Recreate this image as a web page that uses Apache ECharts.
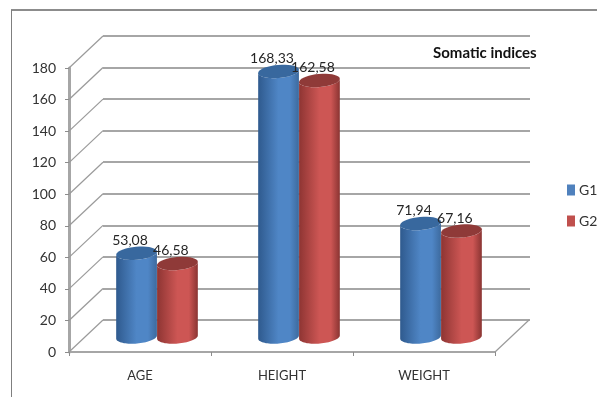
<!DOCTYPE html>
<html>
<head>
<meta charset="utf-8">
<script src="https://cdn.jsdelivr.net/npm/echarts@6/dist/echarts.min.js"></script>
<style>html,body{margin:0;padding:0;background:#fff}#c{width:597px;height:397px}</style>
</head>
<body>
<div id="c"></div>
<script>
const categories = ['AGE', 'HEIGHT', 'WEIGHT'];
const g1Values = [53.08, 168.33, 71.94];
const g2Values = [46.58, 162.58, 67.16];
const yTicks = [0, 20, 40, 60, 80, 100, 120, 140, 160, 180];
const fontName = 'Lato, "Noto Sans", sans-serif';

// Oblique depth of the pseudo-3D box, from the front plane to the back wall.
const depthX = 34, depthY = -32;
const tilt = -5 * Math.PI / 180;
const capRatio = 0.32;

function ellipsePoint(cx, cy, rx, ry, t) {
  const x = rx * Math.cos(t), y = ry * Math.sin(t);
  return [cx + x * Math.cos(tilt) - y * Math.sin(tilt),
          cy + x * Math.sin(tilt) + y * Math.cos(tilt)];
}
function arc(cx, cy, rx, ry, from, to) {
  const pts = [];
  for (let i = 0; i <= 36; i++) pts.push(ellipsePoint(cx, cy, rx, ry, from + (to - from) * i / 36));
  return pts;
}
function cylinderGradient(edgeL, mid, edgeR) {
  return {
    type: 'linear', x: 0, y: 0, x2: 1, y2: 0,
    colorStops: [{offset: 0, color: edgeL}, {offset: 0.5, color: mid}, {offset: 0.78, color: mid}, {offset: 1, color: edgeR}]
  };
}

// Draws one cylinder per value, placed beside the category centre on the mid-depth plane.
function cylinderSeries(name, values, side, color, body, cap, labelDy) {
  return {
    type: 'custom', name, xAxisIndex: 2, yAxisIndex: 2, silent: true,
    itemStyle: {color},
    encode: {x: 0, y: 1},
    data: values.map((v, i) => [i, v]),
    renderItem(params, api) {
      const value = api.value(1);
      const band = api.size([1, 0])[0];
      const base = api.coord([api.value(0), 0]);
      const top = api.coord([api.value(0), value]);
      const rx = band * 0.144, ry = rx * capRatio;
      const cx = base[0] + side * rx;
      return {
        type: 'group',
        children: [
          {type: 'polygon',
           shape: {points: arc(cx, base[1], rx, ry, 0, Math.PI).concat(arc(cx, top[1], rx, ry, Math.PI, 0))},
           style: {fill: body}},
          {type: 'polygon',
           shape: {points: arc(cx, top[1], rx, ry, 0, 2 * Math.PI)},
           style: {fill: cap}},
          {type: 'text', z2: 10,
           style: {text: String(value.toFixed(2)).replace('.', ','),
                   x: cx - rx * 0.32, y: top[1] + labelDy,
                   align: 'center', verticalAlign: 'middle',
                   font: '14px ' + fontName, fill: '#262626'}}
        ]
      };
    }
  };
}

const chart = echarts.init(document.getElementById('c'), null, {renderer: 'canvas'});
const hiddenAxis = {show: false};
chart.setOption({
  animation: false,
  backgroundColor: '#ffffff',
  title: {
    text: 'Somatic indices', left: 428, top: 41,
    textStyle: {fontFamily: fontName, fontWeight: 'bold', fontSize: 15, color: '#111111'}
  },
  legend: {
    orient: 'vertical', left: 562, top: 178, itemWidth: 8, itemHeight: 11, itemGap: 17,
    icon: 'rect', data: ['G1', 'G2'],
    textStyle: {fontFamily: fontName, fontSize: 14, color: '#333333', padding: [0, 0, 0, -1]}
  },
  grid: [
    {left: 69, right: 102, top: 68, bottom: 45},
    {left: 103, right: 67, top: 36, bottom: 77},
    {left: 86, right: 85, top: 53, bottom: 60}
  ],
  xAxis: [
    {type: 'category', gridIndex: 0, data: categories,
     axisLine: {lineStyle: {color: '#a6a6a6', width: 2}},
     axisTick: {show: true, length: 4, lineStyle: {color: '#8c8c8c'}},
     axisLabel: {fontFamily: fontName, fontSize: 13, color: '#333333', margin: 17}},
    {type: 'category', gridIndex: 1, data: categories, ...hiddenAxis},
    {type: 'category', gridIndex: 2, data: categories, ...hiddenAxis}
  ],
  yAxis: [
    {type: 'value', gridIndex: 0, min: 0, max: 180, interval: 20,
     axisLine: {show: true, lineStyle: {color: '#a6a6a6', width: 3}},
     axisTick: {show: true, length: 4, lineStyle: {color: '#8c8c8c'}},
     splitLine: {show: false},
     axisLabel: {fontFamily: fontName, fontSize: 14, color: '#333333', margin: 13}},
    {type: 'value', gridIndex: 1, min: 0, max: 180, interval: 20,
     axisLine: {show: false}, axisTick: {show: false}, axisLabel: {show: false},
     splitLine: {show: true, lineStyle: {color: '#a6a6a6', width: 2}}},
    {type: 'value', gridIndex: 2, min: 0, max: 180, interval: 20, ...hiddenAxis}
  ],
  graphic: [
    {type: 'line', silent: true, shape: {x1: 11, y1: 10, x2: 597, y2: 10}, style: {stroke: '#8c8c8c', lineWidth: 2}},
    {type: 'line', silent: true, shape: {x1: 11.5, y1: 10, x2: 11.5, y2: 397}, style: {stroke: '#7f7f7f', lineWidth: 1}}
  ],
  series: [
    // Oblique lines joining each front tick to the same value on the back wall.
    {
      type: 'custom', name: 'depth', xAxisIndex: 0, yAxisIndex: 0, silent: true, z: 1,
      encode: {x: 0, y: 1},
      data: yTicks.map(v => [0, v, -0.5]).concat([[categories.length - 1, 0, 0.5]]),
      renderItem(params, api) {
        const p = api.coord([api.value(0), api.value(1)]);
        const x = p[0] + api.value(2) * api.size([1, 0])[0];
        return {
          type: 'line',
          shape: {x1: x, y1: p[1], x2: x + depthX, y2: p[1] + depthY},
          style: {stroke: '#9a9a9a', lineWidth: 1.2}
        };
      }
    },
    cylinderSeries('G1', g1Values, -1, '#4f81bd',
      cylinderGradient('#2f5a8e', '#4f86c6', '#3d6a9e'), '#38689e', -13),
    cylinderSeries('G2', g2Values, 1, '#c0504d',
      cylinderGradient('#8e3533', '#cd5654', '#8a3432'), '#8f3a38', -13)
  ]
});
</script>
</body>
</html>
